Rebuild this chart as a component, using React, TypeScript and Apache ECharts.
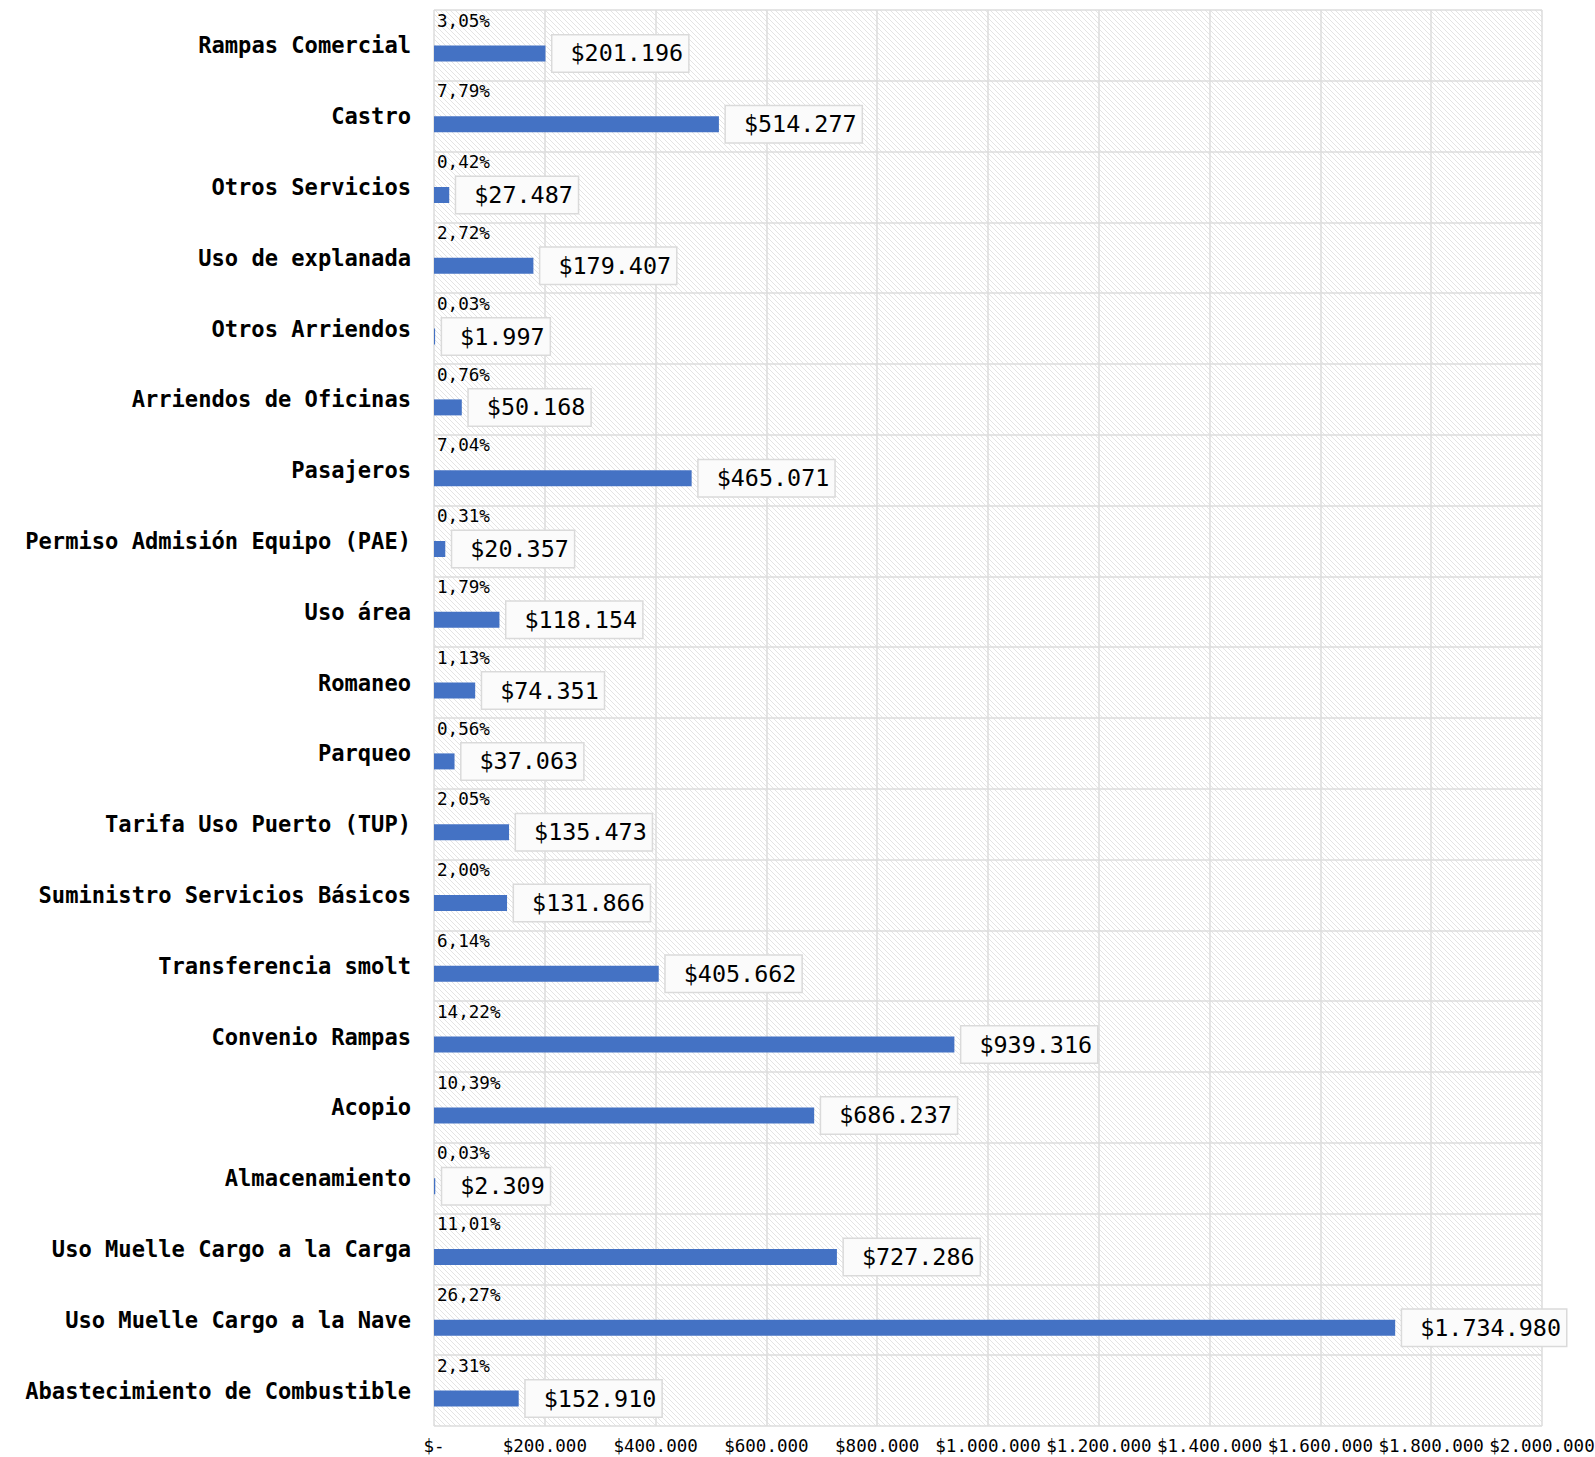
import React, { useEffect, useRef } from "react";
import * as echarts from "echarts";

const categories = [
  "Rampas Comercial",
  "Castro",
  "Otros Servicios",
  "Uso de explanada",
  "Otros Arriendos",
  "Arriendos de Oficinas",
  "Pasajeros",
  "Permiso Admisión Equipo (PAE)",
  "Uso área",
  "Romaneo",
  "Parqueo",
  "Tarifa Uso Puerto (TUP)",
  "Suministro Servicios Básicos",
  "Transferencia smolt",
  "Convenio Rampas",
  "Acopio",
  "Almacenamiento",
  "Uso Muelle Cargo a la Carga",
  "Uso Muelle Cargo a la Nave",
  "Abastecimiento de Combustible",
];

const values = [
  201196, 514277, 27487, 179407, 1997, 50168, 465071, 20357, 118154, 74351,
  37063, 135473, 131866, 405662, 939316, 686237, 2309, 727286, 1734980, 152910,
];

const percents = [
  "3,05%", "7,79%", "0,42%", "2,72%", "0,03%", "0,76%", "7,04%", "0,31%",
  "1,79%", "1,13%", "0,56%", "2,05%", "2,00%", "6,14%", "14,22%", "10,39%",
  "0,03%", "11,01%", "26,27%", "2,31%",
];

const xTicks = { min: 0, max: 2000000, interval: 200000 };

const MONO = '"DejaVu Sans Mono", "Liberation Mono", monospace';

function fmt(v: number): string {
  return "$" + String(Math.round(v)).replace(/\B(?=(\d{3})+(?!\d))/g, ".");
}

function makeHatch(): string {
  const c = document.createElement("canvas");
  const s = 5;
  c.width = s;
  c.height = s;
  const ctx = c.getContext("2d")!;
  ctx.fillStyle = "#ffffff";
  ctx.fillRect(0, 0, s, s);
  ctx.strokeStyle = "#e4e4e4";
  ctx.lineWidth = 1;
  ctx.beginPath();
  ctx.moveTo(-1, -1);
  ctx.lineTo(s + 1, s + 1);
  ctx.moveTo(-1, s - 1);
  ctx.lineTo(1, s + 1);
  ctx.moveTo(s - 1, -1);
  ctx.lineTo(s + 1, 1);
  ctx.stroke();
  return c.toDataURL();
}

export default function App() {
  const ref = useRef<HTMLDivElement>(null);
  useEffect(() => {
    if (!ref.current) return;
    const chart = echarts.init(ref.current, undefined, { renderer: "svg" });
    const gridLeft = 434;
    const gridTop = 10;
    const gridRight = 53;
    const gridBottom = 31;
    const W = 1595;
    const H = 1457;
    let hatchFill: any = "#f7f7f7";
    try {
      const img = new Image();
      img.src = makeHatch();
      hatchFill = { image: img, repeat: "repeat" };
    } catch (e) {}

    const data = values.map((v, i) => [v, i]);

    chart.setOption({
      animation: false,
      backgroundColor: "#ffffff",
      graphic: [
        {
          type: "rect",
          z: -10,
          silent: true,
          shape: {
            x: gridLeft,
            y: gridTop,
            width: W - gridLeft - gridRight,
            height: H - gridTop - gridBottom,
          },
          style: { fill: hatchFill },
        },
      ],
      grid: {
        left: gridLeft,
        right: gridRight,
        top: gridTop,
        bottom: gridBottom,
        containLabel: false,
        outerBoundsMode: "none",
      },
      xAxis: {
        type: "value",
        min: xTicks.min,
        max: xTicks.max,
        interval: xTicks.interval,
        axisLine: { show: false },
        axisTick: { show: false },
        splitLine: { show: true, lineStyle: { color: "#dcdcdc", width: 1.5 } },
        axisLabel: {
          margin: 11,
          color: "#000",
          fontFamily: MONO,
          fontSize: 17.5,
          lineHeight: 18,
          formatter: (v: number) => (v === 0 ? "$-" : fmt(v)),
        },
      },
      yAxis: {
        type: "category",
        inverse: true,
        data: categories,
        axisLine: { show: false },
        axisTick: { show: false },
        splitLine: {
          show: true,
          interval: 0,
          lineStyle: { color: "#dcdcdc", width: 1.5 },
        },
        axisLabel: {
          margin: 23,
          color: "#000",
          fontFamily: MONO,
          fontWeight: "bold",
          fontSize: 22.1,
          interval: 0,
          verticalAlign: "middle",
        },
      },
      series: [
        {
          type: "custom",
          data,
          encode: { x: 0, y: 1 },
          renderItem: (params: any, api: any) => {
            const v = api.value(0);
            const idx = api.value(1);
            const start = api.coord([0, idx]);
            const end = api.coord([v, idx]);
            const band = api.size([0, 1])[1];
            const cy = start[1];
            const top = cy - band / 2;
            return {
              type: "group",
              children: [
                {
                  type: "rect",
                  shape: {
                    x: start[0],
                    y: cy,
                    width: Math.max(end[0] - start[0], 1),
                    height: 16,
                  },
                  style: { fill: "#4472c4" },
                },
                {
                  type: "text",
                  x: start[0] + 3,
                  y: top + 10.5,
                  style: {
                    text: percents[idx],
                    fill: "#000",
                    font: `17.6px ${MONO}`,
                    align: "left",
                    verticalAlign: "middle",
                  },
                },
                {
                  type: "text",
                  x: end[0] + 7,
                  y: cy + 8,
                  style: {
                    text: fmt(v),
                    fill: "#000",
                    font: `23.4px ${MONO}`,
                    align: "left",
                    verticalAlign: "middle",
                    lineHeight: 28,
                    backgroundColor: "#fbfbfb",
                    borderColor: "#dadada",
                    borderWidth: 1.5,
                    padding: [4, 5, 4, 18],
                  },
                },
              ],
            };
          },
        },
      ],
    });
    return () => chart.dispose();
  }, []);
  return (
    <div
      ref={ref}
      style={{ position: "fixed", left: 0, top: 0, width: 1595, height: 1457 }}
    />
  );
}
